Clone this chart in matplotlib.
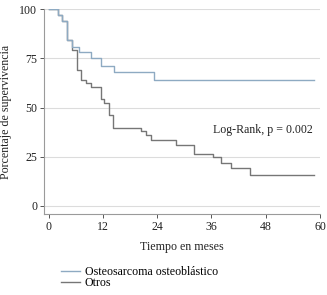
import matplotlib
matplotlib.use("Agg")
import matplotlib.pyplot as plt
from matplotlib.lines import Line2D

# Kaplan-Meier step data (months, survival %)
osteo_t = [0, 2, 3, 4, 5.1, 6.7, 9.3, 11.6, 14.4, 23.3, 58.6]
osteo_s = [100, 97, 94, 84.5, 81, 78.5, 75, 71.2, 68.2, 64, 64]

otros_t = [0, 2, 3, 4, 5.1, 6.4, 7.1, 8.2, 9.3, 11.5, 12.3, 13.3, 14.2,
           20.4, 21.6, 22.7, 28.2, 32.2, 36.4, 38.2, 40.4, 44.5, 58.6]
otros_s = [100, 97, 94, 84.5, 79.3, 69.2, 64, 62.3, 60.6, 54.6, 52.3, 46.2, 39.6,
           37.9, 36.2, 33.7, 31, 26.4, 24.7, 22, 19.1, 15.7, 15.7]

series_names = ["Osteosarcoma osteoblástico", "Otros"]
x_ticks = [0, 12, 24, 36, 48, 60]
y_ticks = [0, 25, 50, 75, 100]
annotation = "Log-Rank, p = 0.002"

blue = "#8eaac2"
gray = "#767676"
FS = 8.6

plt.rcParams['font.family'] = ['Liberation Serif', 'DejaVu Serif']

fig = plt.figure(figsize=(3.27, 2.95), dpi=100)
W, H = 327, 295
left, right = 44 / W, 320 / W
top, bottom = 1 - 9.3 / H, 1 - 214 / H
ax = fig.add_axes([left, bottom, right - left, top - bottom])

ax.set_xlim(-1, 60)
ax.set_ylim(-4.1, 100)

for y in y_ticks:
    ax.axhline(y, color="#dcdcdc", lw=0.8, zorder=0)

ax.step(osteo_t, osteo_s, where="post", color=blue, lw=1.0, zorder=3)
ax.step(otros_t, otros_s, where="post", color=gray, lw=1.0, zorder=2)

ax.set_xticks(x_ticks)
ax.set_yticks(y_ticks)
ax.tick_params(axis="both", labelsize=FS, length=3, width=0.7, colors="#555555",
               labelcolor="#222222", pad=2)
for s in ["top", "right"]:
    ax.spines[s].set_visible(False)
for s in ["left", "bottom"]:
    ax.spines[s].set_color("#9a9a9a")
    ax.spines[s].set_linewidth(0.8)

ax.set_xlabel("Tiempo en meses", fontsize=FS, labelpad=6, color="#222222")
ax.set_ylabel("Porcentaje de supervivencia", fontsize=FS, labelpad=5, color="#222222")

ax.text(47.4, 38.6, annotation, fontsize=FS, ha="center", va="center", color="#222222")

handles = [Line2D([0], [0], color=blue, lw=1.0), Line2D([0], [0], color=gray, lw=1.0)]
fig.legend(handles, series_names, loc="upper left",
           bbox_to_anchor=(61 / W, 1 - 266 / H), frameon=False, fontsize=FS,
           handlelength=1.6, handletextpad=0.4, labelspacing=-0.05,
           borderpad=0, borderaxespad=0)

fig.savefig("out.png", dpi=100)
